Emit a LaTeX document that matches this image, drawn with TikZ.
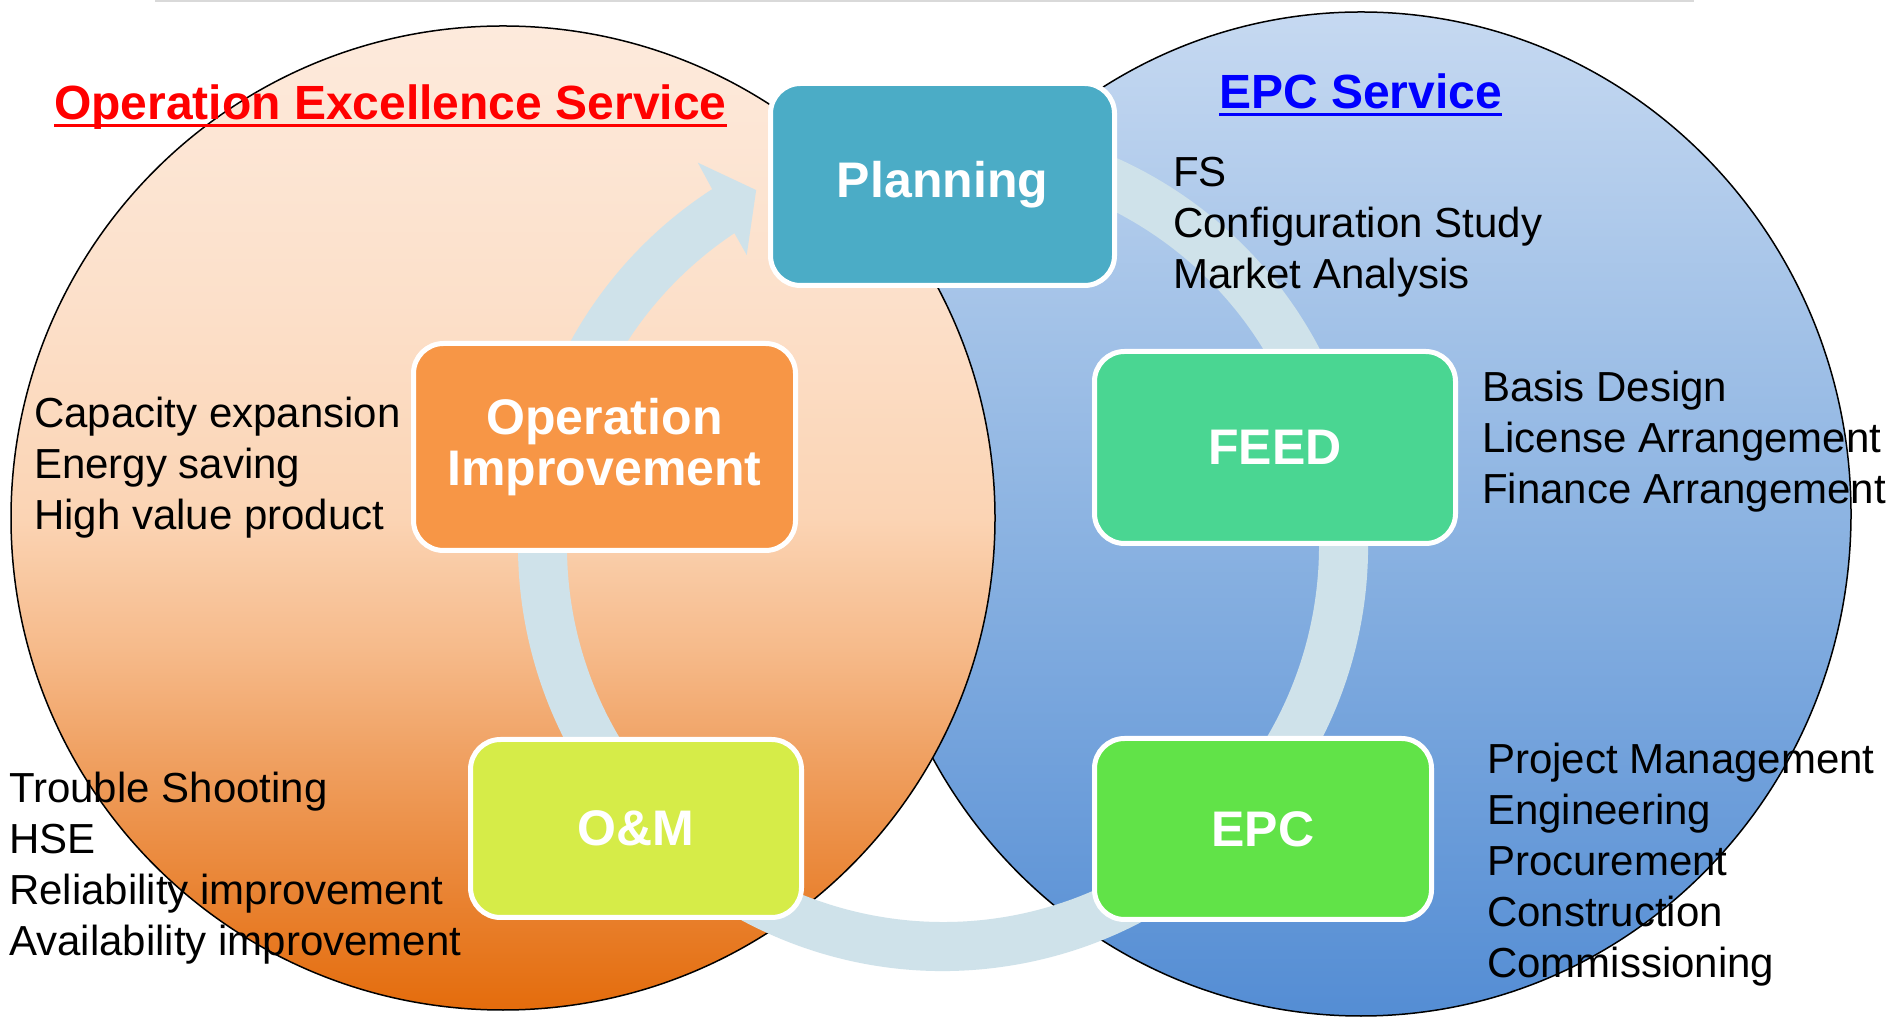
\documentclass[tikz,border=0pt]{standalone}
\usepackage{fontspec}
\setmainfont{Liberation Sans}
\usetikzlibrary{calc}

\definecolor{ringcol}{RGB}{207,226,234}
\definecolor{planc}{RGB}{75,172,198}
\definecolor{oic}{RGB}{247,150,70}
\definecolor{feedc}{RGB}{74,214,146}
\definecolor{omc}{RGB}{214,236,72}
\definecolor{epcc}{RGB}{97,227,72}
\definecolor{lg0}{RGB}{228,108,12}
\definecolor{lg1}{RGB}{235,140,65}
\definecolor{lg2}{RGB}{240,162,100}
\definecolor{lg3}{RGB}{246,186,138}
\definecolor{lg4}{RGB}{251,212,180}
\definecolor{lg5}{RGB}{252,224,202}
\definecolor{lg6}{RGB}{253,234,220}
\definecolor{rg0}{RGB}{84,141,212}
\definecolor{rg1}{RGB}{141,180,226}
\definecolor{rg2}{RGB}{198,217,241}

\pgfdeclareverticalshading{leftgrad}{100bp}{color(0bp)=(lg0); color(25bp)=(lg0); color(33.1bp)=(lg1); color(38.2bp)=(lg2); color(43.3bp)=(lg3); color(50bp)=(lg4); color(61.1bp)=(lg5); color(75bp)=(lg6); color(100bp)=(lg6)}
\pgfdeclareverticalshading{rightgrad}{100bp}{color(0bp)=(rg0); color(25bp)=(rg0); color(50bp)=(rg1); color(75bp)=(rg2); color(100bp)=(rg2)}

\tikzset{
  stage/.style={draw=white, line width=5pt, rounded corners=30pt, text=white,
    font=\fontsize{50}{51}\bfseries\selectfont, align=center, inner sep=0pt},
  item/.style={anchor=base west, inner sep=0pt, font=\fontsize{42}{51}\selectfont, text=black},
  title/.style={anchor=base west, inner sep=0pt, font=\fontsize{48}{58}\bfseries\selectfont},
  venn/.style={draw=black, line width=1.5pt}
}

\begin{document}
\begin{tikzpicture}[x=1pt,y=1pt]
\useasboundingbox (0,0) rectangle (1897,1017);
\clip (0,0) rectangle (1897,1017);
\fill[white] (0,0) rectangle (1897,1017);

% top grey rule (cropped)
\draw[black!15, line width=3pt] (155,1016) -- (1694,1016);

% Venn circles
\coordinate (rcen) at (1361,503);
\coordinate (lcen) at (503,499);
\shadedraw[shading=rightgrad, venn] (rcen) ellipse[x radius=490pt, y radius=502pt];
\shadedraw[shading=leftgrad, venn] (lcen) circle[radius=492pt];

% circular arrow
\coordinate (cc) at (943,471);
\fill[ringcol] ($(cc)+(100:425pt)$) arc[start angle=100, end angle=-237.1, radius=425pt]
  -- ($(cc)+(-237.4:455pt)$) -- ($(cc)+(-242.3:402pt)$) -- ($(cc)+(-236:351pt)$)
  -- ($(cc)+(-236.3:376pt)$) arc[start angle=-236.3, end angle=100, radius=376pt] -- cycle;

% stage boxes
\node[stage, fill=planc, minimum width=344pt, minimum height=202pt] (plan) at (942.5,832.5) {Planning};
\node[stage, fill=oic, minimum width=382pt, minimum height=207pt] (oi) at (604.5,570) {Operation\\Improvement};
\node[stage, fill=feedc, minimum width=361pt, minimum height=192pt] (feed) at (1275,569.5) {FEED};
\node[stage, fill=omc, minimum width=331pt, minimum height=178pt] (om) at (636,188.5) {O\&M};
\node[stage, fill=epcc, minimum width=337pt, minimum height=181pt] (epc) at (1263,188) {EPC};

% titles
\node[title, text=red] (toes) at (54,897) {Operation Excellence Service};
\draw[red, line width=3pt] ($(toes.base west)+(0,-5.5)$) -- ($(toes.base east)+(0,-5.5)$);
\node[title, text=blue] (tepc) at (1219,908) {EPC Service};
\draw[blue, line width=3pt] ($(tepc.base west)+(0,-5.5)$) -- ($(tepc.base east)+(0,-5.5)$);

% item lists
\node[item] (lplan) at (1173,830) {\begin{tabular}[t]{@{}l@{}}FS\\Configuration Study\\Market Analysis\end{tabular}};
\node[item] (lfeed) at (1482,615) {\begin{tabular}[t]{@{}l@{}}Basis Design\\License Arrangement\\Finance Arrangement\end{tabular}};
\node[item] (loi) at (34,589) {\begin{tabular}[t]{@{}l@{}}Capacity expansion\\Energy saving\\High value product\end{tabular}};
\node[item] (lom) at (9,214) {\begin{tabular}[t]{@{}l@{}}Trouble Shooting\\HSE\\Reliability improvement\\Availability improvement\end{tabular}};
\node[item] (lepc) at (1487,243) {\begin{tabular}[t]{@{}l@{}}Project Management\\Engineering\\Procurement\\Construction\\Commissioning\end{tabular}};
\end{tikzpicture}
\end{document}
